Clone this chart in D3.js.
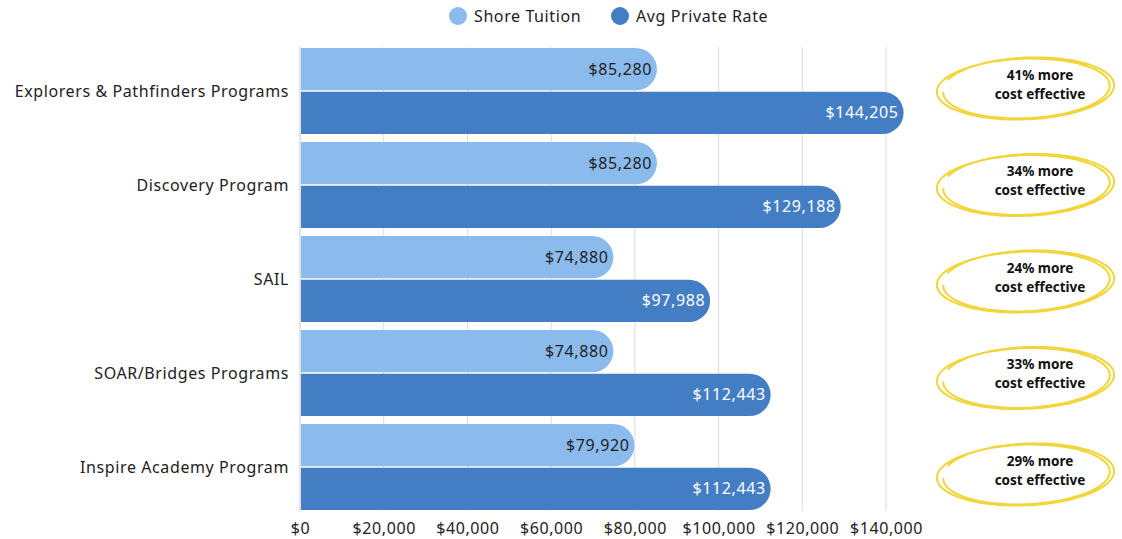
<!DOCTYPE html>
<html>
<head>
<meta charset="utf-8">
<script src="https://cdn.jsdelivr.net/npm/d3@7"></script>
<style>
  body { margin: 0; background: #fff; }
  svg { display: block; font-family: "Noto Sans", "Open Sans", sans-serif; }
  .reg { letter-spacing: 0.6px; }
</style>
</head>
<body>
<div id="chart"></div>
<script>
// donnees du graphique
var categories = ["Explorers & Pathfinders Programs", "Discovery Program", "SAIL", "SOAR/Bridges Programs", "Inspire Academy Program"];
var shoreTuition = [85280, 85280, 74880, 74880, 79920];
var avgPrivate = [144205, 129188, 97988, 112443, 112443];
var savings = ["41%", "34%", "24%", "33%", "29%"];
var xTicks = [0, 20000, 40000, 60000, 80000, 100000, 120000, 140000];
var seriesNames = ["Shore Tuition", "Avg Private Rate"];

var width = 1122, height = 539;
var colorLight = "#8bbaec", colorDark = "#437ec5", yellow = "#f1d539";

var svg = d3.select("#chart").append("svg")
    .attr("width", width)
    .attr("height", height);

// echelles
var x = d3.scaleLinear().domain([0, 140000]).range([300, 886]);
var y = d3.scaleBand().domain(categories).range([44, 514]).paddingInner(0.085).paddingOuter(0.0425);
var y1 = d3.scaleBand().domain(seriesNames).range([0, y.bandwidth()]).paddingInner(0.03);
// position des annotations (un peu decalees par rapport aux groupes)
var yNote = d3.scalePoint().domain(categories).range([84, 470]);

var fmt = function(v) { return "$" + d3.format(",")(v); };

// grille verticale
svg.append("g").selectAll("line")
    .data(xTicks.slice(1))
    .enter().append("line")
    .attr("x1", function(d) { return x(d); })
    .attr("x2", function(d) { return x(d); })
    .attr("y1", 47)
    .attr("y2", 511)
    .attr("stroke", "#dcdcdc")
    .attr("stroke-width", 1);

// axe x
var xAxis = svg.append("g")
    .attr("transform", "translate(0,511)")
    .call(d3.axisBottom(x).tickValues(xTicks).tickFormat(fmt).tickSize(0).tickPadding(12));
xAxis.select(".domain").remove();
xAxis.selectAll("text")
    .attr("class", "reg")
    .attr("fill", "#222")
    .style("font-size", "16px")
    .style("font-family", "'Noto Sans', sans-serif");

// axe y (ligne de base)
svg.append("line")
    .attr("x1", x(0)).attr("x2", x(0))
    .attr("y1", 47).attr("y2", 511)
    .attr("stroke", "#c8c8c8");

// libelles des categories
svg.append("g").selectAll("text")
    .data(categories)
    .enter().append("text")
    .attr("class", "reg")
    .attr("x", 289)
    .attr("y", function(d) { return y(d) + y.bandwidth() / 2; })
    .attr("dy", "0.35em")
    .attr("text-anchor", "end")
    .attr("fill", "#222")
    .style("font-size", "16px")
    .text(function(d) { return d; });

// barre avec bout arrondi a droite
function barPath(x0, x1, top, h) {
    var r = Math.min(h / 2, x1 - x0);
    return "M" + x0 + "," + top +
        "H" + (x1 - r) +
        "A" + r + "," + r + " 0 0 1 " + x1 + "," + (top + r) +
        "V" + (top + h - r) +
        "A" + r + "," + r + " 0 0 1 " + (x1 - r) + "," + (top + h) +
        "H" + x0 + "Z";
}

var rows = categories.map(function(c, i) {
    return [
        { cat: c, serie: seriesNames[0], value: shoreTuition[i], fill: colorLight, text: "#1f1f1f" },
        { cat: c, serie: seriesNames[1], value: avgPrivate[i], fill: colorDark, text: "#ffffff" }
    ];
});
var bars = [].concat.apply([], rows);

svg.append("g").selectAll("path")
    .data(bars)
    .enter().append("path")
    .attr("d", function(d) {
        return barPath(x(0) + 1, x(d.value), y(d.cat) + y1(d.serie), y1.bandwidth());
    })
    .attr("fill", function(d) { return d.fill; });

svg.append("g").selectAll("text")
    .data(bars)
    .enter().append("text")
    .attr("class", "reg")
    .attr("x", function(d) { return x(d.value) - 5; })
    .attr("y", function(d) { return y(d.cat) + y1(d.serie) + y1.bandwidth() / 2; })
    .attr("dy", "0.35em")
    .attr("text-anchor", "end")
    .attr("fill", function(d) { return d.text; })
    .style("font-size", "16px")
    .text(function(d) { return fmt(d.value); });

// legende
var legend = svg.append("g").selectAll("g")
    .data(seriesNames)
    .enter().append("g")
    .attr("transform", function(d, i) { return "translate(" + (i === 0 ? 458 : 620) + ",16)"; });
legend.append("circle")
    .attr("r", 9)
    .attr("fill", function(d, i) { return i === 0 ? colorLight : colorDark; });
legend.append("text")
    .attr("class", "reg")
    .attr("x", 16)
    .attr("dy", "0.35em")
    .attr("fill", "#222")
    .style("font-size", "16px")
    .text(function(d) { return d; });

// cercles jaunes "dessines a la main"
function scribble(cx, cy, rx, ry, k) {
    var pts = [];
    var n = 160;
    for (var j = 0; j <= n; j++) {
        var t = -2.8 + (j / n) * (4 * Math.PI - 0.3);
        var drift = 1 + 0.045 * Math.sin(t * 0.5 + k);
        var px = cx + rx * drift * Math.cos(t);
        var py = cy + ry * drift * Math.sin(t) - 3 * Math.cos(t) + (j / n) * 3;
        pts.push([px, py]);
    }
    return d3.line().curve(d3.curveBasis)(pts);
}

var notes = svg.append("g").selectAll("g")
    .data(categories)
    .enter().append("g")
    .attr("transform", function(d) { return "translate(0," + yNote(d) + ")"; });

notes.append("path")
    .attr("d", scribble(1026, 3, 86, 30, 0.6))
    .attr("fill", "none")
    .attr("stroke", yellow)
    .attr("stroke-width", 2);

notes.append("text")
    .attr("x", 1040)
    .attr("y", -9)
    .attr("dy", "0.35em")
    .attr("text-anchor", "middle")
    .attr("fill", "#111")
    .style("font-size", "13.5px")
    .style("font-weight", "bold")
    .text(function(d, i) { return savings[i] + " more"; });
notes.append("text")
    .attr("x", 1040)
    .attr("y", 10)
    .attr("dy", "0.35em")
    .attr("text-anchor", "middle")
    .attr("fill", "#111")
    .style("font-size", "13.5px")
    .style("font-weight", "bold")
    .text("cost effective");
</script>
</body>
</html>
